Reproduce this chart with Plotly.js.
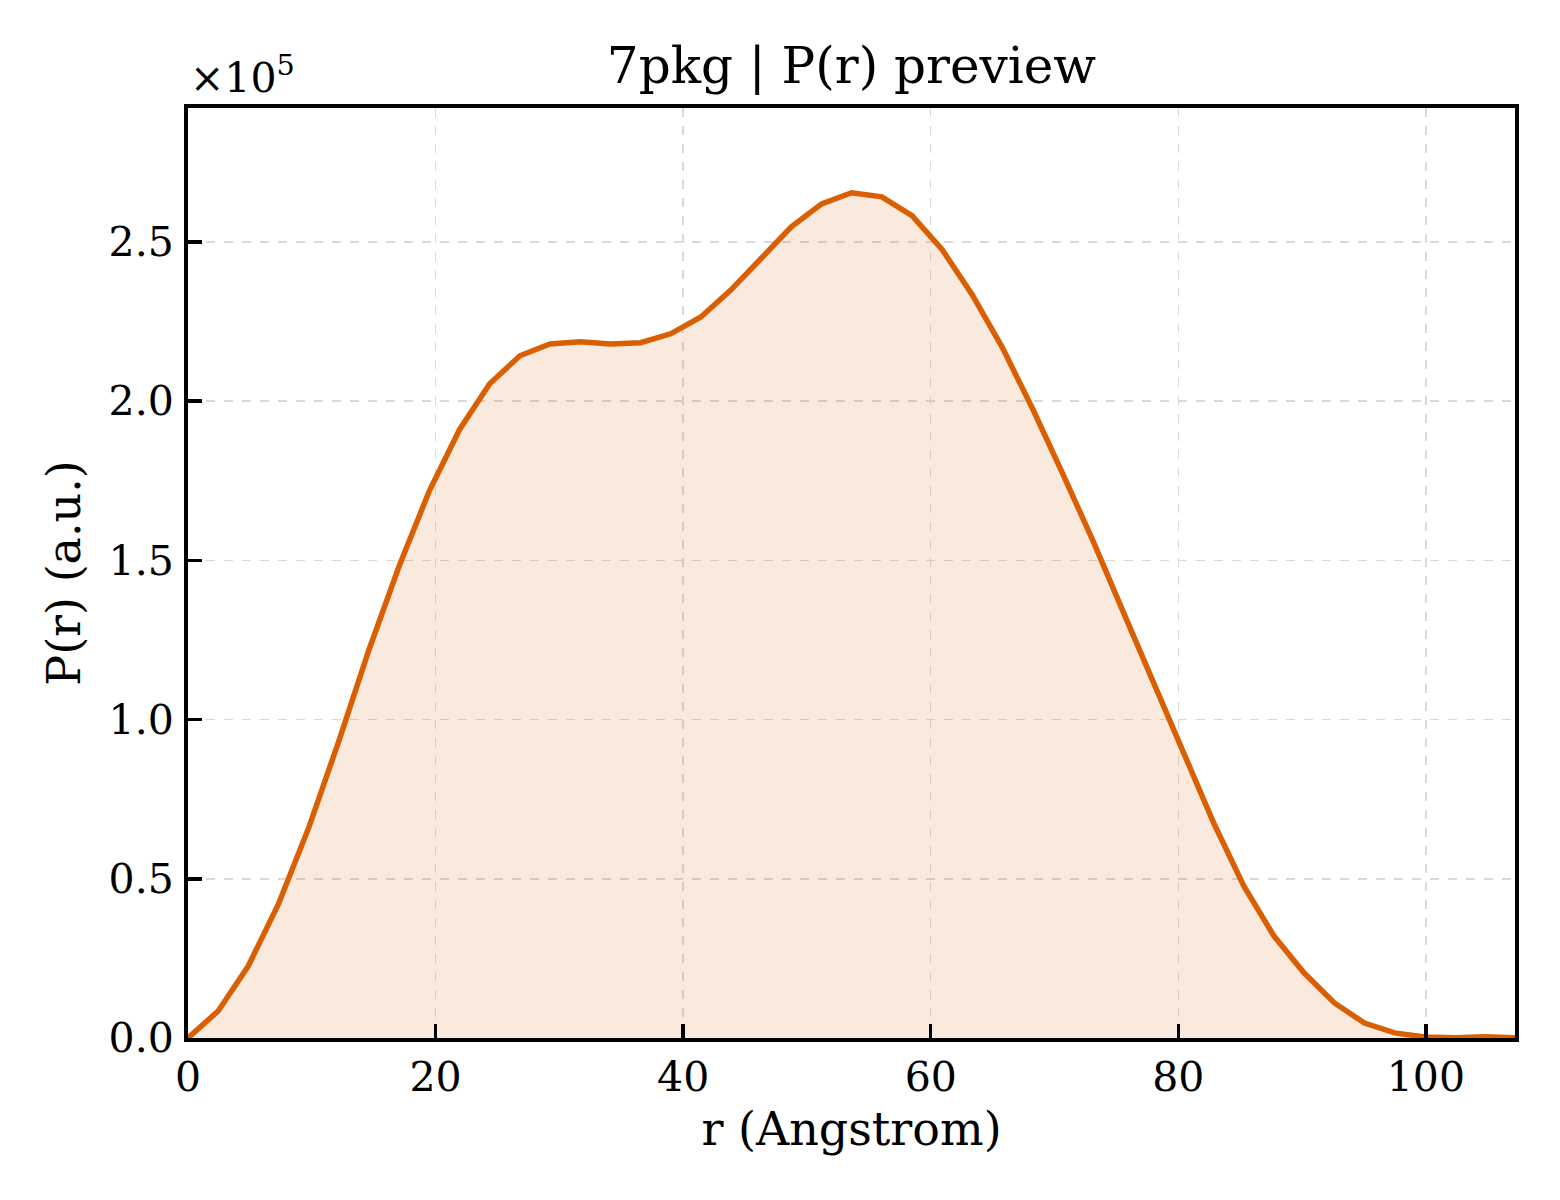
<!DOCTYPE html>
<html>
<head>
<meta charset="utf-8">
<script src="https://cdn.plot.ly/plotly-3.0.1.min.js"></script>
<style>
  html, body { margin: 0; padding: 0; background: #fff; }
  #graph { width: 1560px; height: 1200px; }
</style>
</head>
<body>
<div id="graph"></div>
<script>
// r values (Angstrom)
var rValues = [0, 2.44, 4.87, 7.31, 9.75, 12.19, 14.62, 17.06, 19.50, 21.93,
    24.37, 26.81, 29.24, 31.68, 34.12, 36.56, 38.99, 41.43, 43.87, 46.30,
    48.74, 51.18, 53.61, 56.05, 58.49, 60.93, 63.36, 65.80, 68.24, 70.67,
    73.11, 75.55, 77.98, 80.42, 82.86, 85.30, 87.73, 90.17, 92.61, 95.04,
    97.48, 99.92, 102.35, 104.79, 107.23];

// P(r) in units of 1e5
var prValues = [0, 0.085, 0.226, 0.421, 0.660, 0.933, 1.219, 1.482, 1.718, 1.910,
    2.054, 2.142, 2.179, 2.186, 2.179, 2.183, 2.211, 2.264, 2.349, 2.450,
    2.547, 2.619, 2.654, 2.641, 2.582, 2.475, 2.333, 2.167, 1.975, 1.771,
    1.561, 1.338, 1.115, 0.892, 0.675, 0.477, 0.320, 0.204, 0.110, 0.047,
    0.016, 0.003, 0.001, 0.004, 0.001];

var xTicks = [0, 20, 40, 60, 80, 100];
var yTicks = [0, 0.5, 1.0, 1.5, 2.0, 2.5];

var font = "DejaVu Serif";

var trace = {
    type: "scatter",
    mode: "lines",
    x: rValues,
    y: prValues,
    fill: "tozeroy",
    fillcolor: "rgba(217,95,2,0.13)",
    line: { color: "#d95f02", width: 5.5 },
    hoverinfo: "x+y"
};

// Shared axis styling
var axisBase = {
    showline: true,
    mirror: true,
    linecolor: "#000",
    linewidth: 4,
    ticks: "inside",
    ticklen: 14,
    tickwidth: 3.5,
    tickcolor: "#000",
    showgrid: true,
    gridcolor: "#d9d9d9",
    gridwidth: 1.5,
    griddash: "dash",
    zeroline: false,
    layer: "above traces",
    tickfont: { family: font, size: 41, color: "#000" }
};

var layout = {
    width: 1560,
    height: 1200,
    margin: { l: 188, r: 45, t: 108, b: 162 },
    paper_bgcolor: "#fff",
    plot_bgcolor: "#fff",
    showlegend: false,
    title: {
        text: "7pkg | P(r) preview",
        font: { family: font, size: 50, color: "#000" },
        x: 0.5, xanchor: "center", xref: "paper",
        y: 1, yanchor: "top", yref: "container",
        pad: { t: 48 }
    },
    xaxis: Object.assign({}, axisBase, {
        range: [0, 107.2],
        tickvals: xTicks,
        ticklabelstandoff: 0,
        title: { text: "r (Angstrom)", font: { family: font, size: 46, color: "#000" }, standoff: 14 }
    }),
    yaxis: Object.assign({}, axisBase, {
        range: [0, 2.92],
        tickvals: yTicks,
        tickformat: ".1f",
        ticklabelstandoff: 2,
        title: { text: "P(r) (a.u.)", font: { family: font, size: 46, color: "#000" }, standoff: 14 }
    }),
    annotations: [{
        xref: "paper", yref: "paper",
        x: 0, y: 1, xanchor: "left", yanchor: "bottom",
        yshift: 4,
        showarrow: false,
        text: "×10<sup>5</sup>",
        font: { family: font, size: 41, color: "#000" }
    }]
};

Plotly.newPlot("graph", [trace], layout, { displayModeBar: false, staticPlot: true });
</script>
</body>
</html>
